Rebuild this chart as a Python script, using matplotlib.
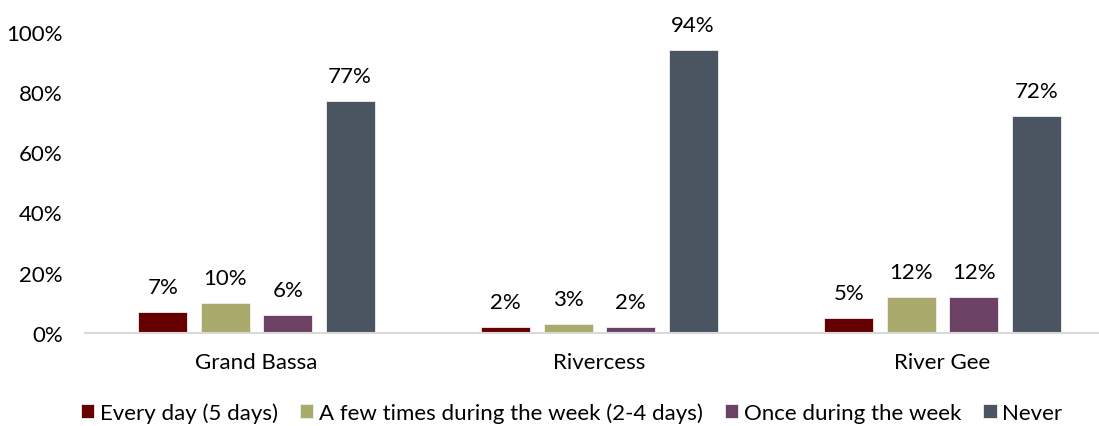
import matplotlib.pyplot as plt
import numpy as np

plt.rcParams['font.family'] = ['Lato', 'DejaVu Sans']

regions = ['Grand Bassa', 'Rivercess', 'River Gee']
series = ['Every day (5 days)', 'A few times during the week (2-4 days)',
          'Once during the week', 'Never']
every_day = [7, 2, 5]
few_times = [10, 3, 12]
once_week = [6, 2, 12]
never = [77, 94, 72]
colors = ['#660000', '#A9AA6B', '#6B4263', '#4A5561']

fig = plt.figure(figsize=(10.99, 4.27), dpi=100)
ax = fig.add_axes([85 / 1099, 93 / 427, 1029 / 1099, 301.4 / 427])

x = np.arange(len(regions))
width = 0.143
step = 0.182
values = [every_day, few_times, once_week, never]
for i, (name, vals, c) in enumerate(zip(series, values, colors)):
    pos = x + (i - 1.5) * step
    bars = ax.bar(pos, vals, width, color=c, label=name,
                  edgecolor='#f0f0f0', linewidth=0.6)
    for b, v in zip(bars, vals):
        ax.text(b.get_x() + b.get_width() / 2, v + 5, '%d%%' % v,
                ha='center', va='bottom', fontsize=16)

ax.set_xlim(-0.5, 2.5)
ax.set_ylim(0, 100)
ax.set_yticks(range(0, 101, 20))
ax.set_yticklabels(['%d%%' % t for t in range(0, 101, 20)])
ax.set_xticks(x)
ax.set_xticklabels(regions)
ax.tick_params(axis='both', length=0, labelsize=16)
ax.tick_params(axis='y', pad=16)
ax.tick_params(axis='x', pad=14)
for s in ['top', 'right', 'left']:
    ax.spines[s].set_visible(False)
ax.spines['bottom'].set_color('#D9D9D9')
ax.spines['bottom'].set_linewidth(1.5)

fig.legend(loc='center', bbox_to_anchor=(0.52, 0.032), ncol=4, frameon=False,
           fontsize=16, handlelength=0.6, handleheight=0.6, handletextpad=0.25,
           columnspacing=1.0, borderpad=0)

fig.savefig('out.png', dpi=100)
